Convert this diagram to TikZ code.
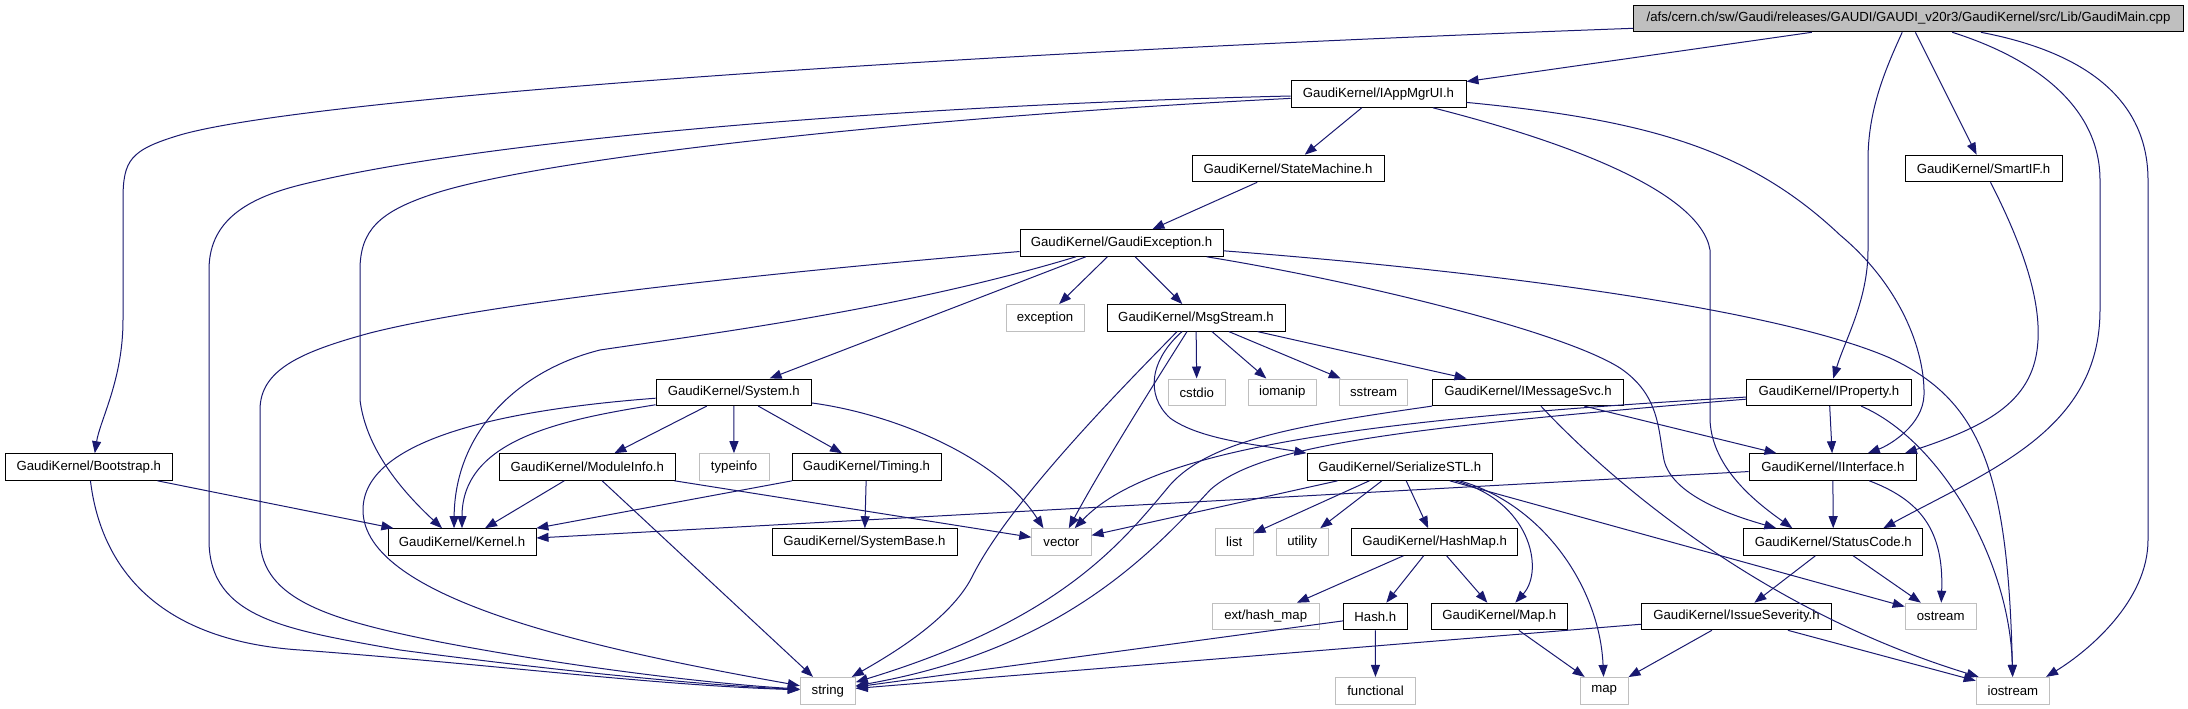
\documentclass[tikz,border=0pt]{standalone}
\usepackage{fontspec}
\usetikzlibrary{arrows.meta}
\newfontfamily\nodefont{Liberation Sans}
\definecolor{edgecol}{HTML}{191970}
\definecolor{boxgray}{HTML}{BFBFBF}
\tikzset{
  box/.style={draw=black, line width=1pt, minimum height=26.6pt, inner sep=0pt,
    font={\nodefont\fontsize{13.2}{15}\selectfont}},
  sysbox/.style={box, draw=boxgray},
  rootbox/.style={box, fill=boxgray},
  dep/.style={draw=edgecol, line width=1pt, -{Triangle[length=12pt,width=9pt]}}
}
\begin{document}
\begin{tikzpicture}[x=1pt,y=-1pt]
\fill[white] (0,0) rectangle (2188,709);
\useasboundingbox (0,0) rectangle (2188,709);
% nodes
\node[rootbox, minimum width=550pt] (root) at (1908.5,18.5) {/afs/cern.ch/sw/Gaudi/releases/GAUDI/GAUDI\_v20r3/GaudiKernel/src/Lib/GaudiMain.cpp};
\node[box, minimum width=175pt] (iapp) at (1378.5,94) {GaudiKernel/IAppMgrUI.h};
\node[box, minimum width=192pt] (sm) at (1288,168.5) {GaudiKernel/StateMachine.h};
\node[box, minimum width=157pt] (smartif) at (1983.5,168.5) {GaudiKernel/SmartIF.h};
\node[box, minimum width=203pt] (ge) at (1121.5,243) {GaudiKernel/GaudiException.h};
\node[sysbox, minimum width=78pt] (exc) at (1045,317.8) {exception};
\node[box, minimum width=178pt] (ms) at (1196,317.8) {GaudiKernel/MsgStream.h};
\node[box, minimum width=155.5pt] (system) at (733.8,392.3) {GaudiKernel/System.h};
\node[sysbox, minimum width=56.5pt] (cstdio) at (1196.8,392.3) {cstdio};
\node[sysbox, minimum width=67.4pt] (iomanip) at (1282.3,392.3) {iomanip};
\node[sysbox, minimum width=68.4pt] (sstream) at (1373.6,392.3) {sstream};
\node[box, minimum width=191pt] (ims) at (1528,392.3) {GaudiKernel/IMessageSvc.h};
\node[box, minimum width=164.4pt] (iprop) at (1829,392.3) {GaudiKernel/IProperty.h};
\node[box, minimum width=166.4pt] (boot) at (88.8,467) {GaudiKernel/Bootstrap.h};
\node[box, minimum width=175.5pt] (mi) at (587.3,467) {GaudiKernel/ModuleInfo.h};
\node[sysbox, minimum width=70pt] (typeinfo) at (734,467) {typeinfo};
\node[box, minimum width=149pt] (timing) at (866.5,467) {GaudiKernel/Timing.h};
\node[box, minimum width=185.5pt] (sstl) at (1399.8,467) {GaudiKernel/SerializeSTL.h};
\node[box, minimum width=167.2pt] (iint) at (1832.8,467) {GaudiKernel/IInterface.h};
\node[box, minimum width=148pt] (kernel) at (462,542) {GaudiKernel/Kernel.h};
\node[box, minimum width=185pt] (sysbase) at (864.5,542) {GaudiKernel/SystemBase.h};
\node[sysbox, minimum width=59.3pt] (vector) at (1061.4,542) {vector};
\node[sysbox, minimum width=37.4pt] (list) at (1234.3,542) {list};
\node[sysbox, minimum width=51.5pt] (utility) at (1302.3,542) {utility};
\node[box, minimum width=166pt] (hashmap) at (1434.6,542) {GaudiKernel/HashMap.h};
\node[box, minimum width=179.2pt] (status) at (1833.3,542) {GaudiKernel/StatusCode.h};
\node[sysbox, minimum width=106.7pt] (exthm) at (1265.7,616.5) {ext/hash\_map};
\node[box, minimum width=63.4pt] (hash) at (1375.3,616.5) {Hash.h};
\node[box, minimum width=135.4pt] (maph) at (1499.3,616.5) {GaudiKernel/Map.h};
\node[box, minimum width=190pt] (issue) at (1736.5,616.5) {GaudiKernel/IssueSeverity.h};
\node[sysbox, minimum width=71pt] (ostream) at (1940.7,616.5) {ostream};
\node[sysbox, minimum width=55pt] (string) at (827.8,690.7) {string};
\node[sysbox, minimum width=79.6pt] (functional) at (1375.5,690.7) {functional};
\node[sysbox, minimum width=47.8pt] (map) at (1604.1,690.7) {map};
\node[sysbox, minimum width=73.4pt] (iostream) at (2012.9,690.7) {iostream};
% root edges
\draw[dep] (root) .. controls (900,55) and (300,100) .. (180,135) .. controls (130,150) and (123,160) .. (123,200) -- (123,320) .. controls (123,380) and (100,420) .. ([xshift=6pt]boot.north);
\draw[dep] (root) -- (iapp);
\draw[dep] (root) .. controls (1885,70) and (1868,110) .. (1868,160) -- (1868,250) .. controls (1868,300) and (1845,340) .. (iprop);
\draw[dep] (root) -- (smartif);
\draw[dep] (root) .. controls (2040,60) and (2100,110) .. (2100,180) -- (2100,310) .. controls (2100,430) and (1990,470) .. ([xshift=50pt]status.north);
\draw[dep] (root) .. controls (2100,55) and (2148,110) .. (2148,180) -- (2148,540) .. controls (2148,600) and (2090,650) .. ([xshift=-4pt]iostream.north east);
% IAppMgrUI
\draw[dep] (iapp) -- (sm);
\draw[dep] (iapp) .. controls (900,105) and (480,140) .. (300,185) .. controls (240,200) and (209,225) .. (209,270) -- (209,540) .. controls (209,620) and (290,630) .. (400,650) .. controls (550,670) and (700,685) .. (string);
\draw[dep] (iapp) .. controls (900,118) and (530,160) .. (430,195) .. controls (380,212) and (360,230) .. (360,270) -- (360,400) .. controls (365,440) and (390,480) .. ([xshift=-20pt]kernel.north);
\draw[dep] (iapp) .. controls (1560,140) and (1700,190) .. (1710,250) -- (1710,420) .. controls (1712,470) and (1760,505) .. ([xshift=-41pt]status.north);
\draw[dep] (iapp) .. controls (1650,120) and (1750,150) .. (1840,235) .. controls (1900,285) and (1925,350) .. (1924,395) .. controls (1923,425) and (1890,445) .. ([xshift=35pt]iint.north);
% StateMachine, SmartIF
\draw[dep] (sm) -- (ge);
\draw[dep] (smartif) .. controls (2025,250) and (2040,300) .. (2038,340) .. controls (2035,400) and (1990,425) .. ([xshift=-12pt]iint.north east);
% GaudiException
\draw[dep] (ge) .. controls (800,270) and (500,300) .. (370,333) .. controls (300,352) and (260,370) .. (260,410) -- (260,540) .. controls (262,600) and (330,620) .. (440,642) .. controls (560,665) and (700,683) .. (string);
\draw[dep] (ge) .. controls (900,310) and (700,335) .. (600,350) .. controls (520,370) and (455,430) .. ([xshift=-8pt]kernel.north);
\draw[dep] (ge) -- (system);
\draw[dep] (ge) -- (exc);
\draw[dep] (ge) -- (ms);
\draw[dep] (ge) .. controls (1350,280) and (1560,330) .. (1620,368) .. controls (1660,395) and (1658,430) .. (1664,460) .. controls (1672,495) and (1730,515) .. ([xshift=-57pt]status.north);
\draw[dep] (ge) .. controls (1500,272) and (1780,310) .. (1890,358) .. controls (1980,400) and (2008,470) .. (iostream);
% MsgStream
\draw[dep] ([xshift=-19pt]ms.south) .. controls (1130,380) and (1010,500) .. (972,577) .. controls (950,620) and (890,655) .. (string);
\draw[dep] ([xshift=-14pt]ms.south) .. controls (1150,360) and (1145,395) .. (1170,418) .. controls (1200,440) and (1260,445) .. (sstl.north west);
\draw[dep] ([xshift=-9pt]ms.south) .. controls (1150,390) and (1100,470) .. (vector);
\draw[dep] (ms) -- (cstdio);
\draw[dep] (ms) -- (iomanip);
\draw[dep] (ms) -- (sstream);
\draw[dep] (ms) -- (ims);
% System
\draw[dep] (system) .. controls (560,420) and (462,440) .. (kernel);
\draw[dep] (system) .. controls (500,410) and (363,440) .. (363,510) .. controls (363,600) and (600,650) .. (string);
\draw[dep] (system) -- (typeinfo);
\draw[dep] (system) -- (mi);
\draw[dep] (system) -- (timing);
\draw[dep] (system) .. controls (900,415) and (1000,460) .. ([xshift=-18pt]vector.north);
% ModuleInfo, Timing, Bootstrap
\draw[dep] (mi) -- (kernel);
\draw[dep] (mi) -- (string);
\draw[dep] (mi) -- (vector);
\draw[dep] (timing) -- (kernel);
\draw[dep] (timing) -- (sysbase);
\draw[dep] (boot) -- (kernel);
\draw[dep] (boot) .. controls (100,560) and (150,640) .. (300,650) .. controls (500,665) and (650,685) .. (string);
% IMessageSvc
\draw[dep] (ims) -- (iint);
\draw[dep] (ims) .. controls (1610,480) and (1760,610) .. ([xshift=3pt]iostream.north west);
\draw[dep] (ims.south west) .. controls (1300,425) and (1210,440) .. (1170,485) .. controls (1120,545) and (1060,620) .. (string);
% IProperty
\draw[dep] (iprop) -- (iint);
\draw[dep] (iprop) .. controls (1940,440) and (2010,560) .. (iostream);
\draw[dep] (iprop) .. controls (1350,420) and (1150,450) .. (vector);
\draw[dep] (iprop) .. controls (1400,428) and (1260,445) .. (1210,490) .. controls (1150,555) and (1060,650) .. (string);
% IInterface
\draw[dep] (iint) -- (kernel);
\draw[dep] (iint) -- (status);
\draw[dep] (iint) .. controls (1920,500) and (1944,530) .. (ostream);
% StatusCode, IssueSeverity
\draw[dep] (status) -- (issue);
\draw[dep] (status) -- (ostream);
\draw[dep] (issue) -- (string);
\draw[dep] (issue) -- (map);
\draw[dep] (issue) -- (iostream);
% SerializeSTL
\draw[dep] (sstl) -- (vector);
\draw[dep] (sstl) -- (list);
\draw[dep] (sstl) -- (utility);
\draw[dep] (sstl) -- (hashmap);
\draw[dep] ([xshift=60pt]sstl.south) .. controls (1545,505) and (1600,590) .. (map);
\draw[dep] ([xshift=55pt]sstl.south) .. controls (1530,500) and (1545,570) .. ([xshift=16pt]maph.north);
\draw[dep] (sstl) -- (ostream);
% HashMap, Hash, Map
\draw[dep] (hashmap) -- (exthm);
\draw[dep] (hashmap) -- (hash);
\draw[dep] (hashmap) -- (maph);
\draw[dep] (hash) -- (functional);
\draw[dep] (hash) -- (string);
\draw[dep] (maph) -- (map);
\end{tikzpicture}
\end{document}
